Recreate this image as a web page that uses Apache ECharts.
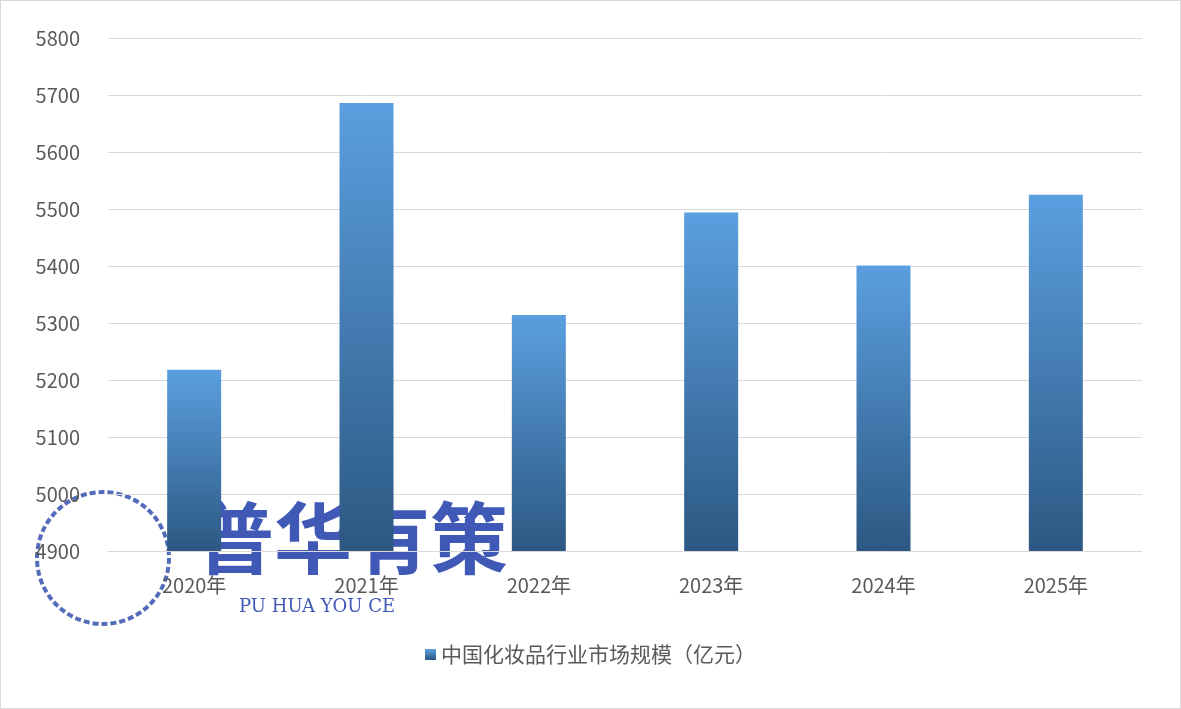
<!DOCTYPE html>
<html><head><meta charset="utf-8">
<script src="https://cdn.jsdelivr.net/npm/echarts@6/dist/echarts.min.js"></script>
<style>html,body{margin:0;background:#fff}#c{width:1181px;height:709px;box-sizing:border-box;border:1px solid #d9d9d9}</style>
</head><body><div id="c"></div>
<script>
const years = ['2020年','2021年','2022年','2023年','2024年','2025年'];
const marketSize = [5218, 5686, 5314, 5494, 5401, 5525];
const seriesName = '中国化妆品行业市场规模（亿元）';

const chart = echarts.init(document.getElementById('c'));
chart.setOption({
  animation: false,
  grid: { left: 107, right: 38, top: 37, bottom: 157 },
  legend: { bottom: 38, left: 'center', icon: 'rect', itemWidth: 11, itemHeight: 11,
    textStyle: { fontSize: 21, color: '#595959', fontFamily: 'Noto Sans CJK SC' }, data: [seriesName] },
  xAxis: { type: 'category', data: years,
    axisLine: { lineStyle: { color: '#d9d9d9' } }, axisTick: { show: false },
    axisLabel: { fontSize: 20, color: '#595959', margin: 24, fontFamily: 'Noto Sans CJK SC' } },
  yAxis: { type: 'value', min: 4900, max: 5800, interval: 100,
    axisLine: { show: false }, axisTick: { show: false },
    splitLine: { lineStyle: { color: '#d9d9d9' } },
    axisLabel: { fontSize: 20, color: '#595959', margin: 28, fontFamily: 'Noto Sans CJK SC', formatter: v => String(v) } },
  series: [{ name: seriesName, type: 'bar', data: marketSize, barWidth: 54,
    itemStyle: { color: new echarts.graphic.LinearGradient(0, 0, 0, 1,
      [{ offset: 0, color: '#5b9fe0' }, { offset: 1, color: '#2c5882' }]) } }],
  graphic: [
    { type: 'circle', shape: { cx: 102, cy: 557, r: 66 }, style: { fill: 'none', stroke: 'rgba(40,70,170,0.8)', lineWidth: 4, lineDash: [6, 3] } },
    { type: 'text', left: 195, top: 498, style: { text: '普华有策', fontSize: 78, fontWeight: 'bold', fill: 'rgba(30,60,170,0.85)', fontFamily: 'Noto Sans CJK SC' } },
    { type: 'text', left: 238, top: 597, style: { text: 'PU HUA YOU CE', fontSize: 18, fill: 'rgba(30,60,170,0.85)', fontFamily: 'DejaVu Serif' } }
  ]
});
</script></body></html>
